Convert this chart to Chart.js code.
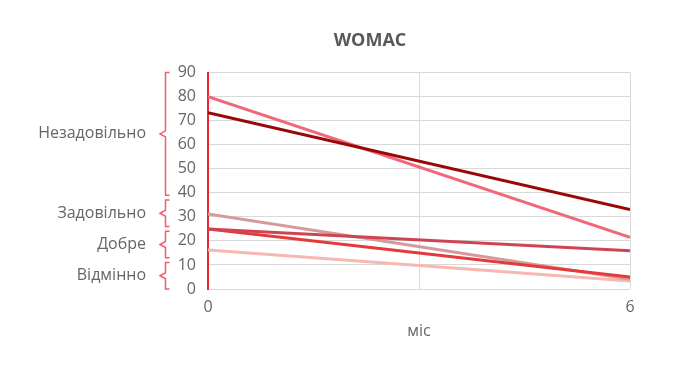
<!DOCTYPE html>
<html>
<head>
<meta charset="utf-8">
<script src="https://cdn.jsdelivr.net/npm/chart.js@4/dist/chart.umd.min.js"></script>
<style>
	html, body { margin: 0; padding: 0; background: #fff; }
	#wrap { width: 700px; height: 372px; }
</style>
</head>
<body>
<div id="wrap"><canvas id="chart"></canvas></div>
<script>
// months at which WOMAC was measured
const months = [0, 6]

// WOMAC score of each series at 0 and 6 months
const seriesDarkRed = [73.3, 33]
const seriesPink = [80, 21.5]
const seriesMidRed = [25, 15.9]
const seriesRed = [25, 5]
const seriesDusty = [31.2, 4]
const seriesLight = [16.2, 3.3]

// rating bands shown with braces left of the axis
const bandLabels = ['Незадовільно', 'Задовільно', 'Добре', 'Відмінно']
const bandFrom = [39, 26, 13, 0]
const bandTo = [90, 37, 24, 11]

const toPoints = (values) => values.map((v, i) => ({ x: months[i], y: v }))

const seriesColors = ['#990808', '#f0687a', '#cf4452', '#e43a3a', '#d59a9c', '#f6b8b0']
const allSeries = [seriesDarkRed, seriesPink, seriesMidRed, seriesRed, seriesDusty, seriesLight]

// draws curly braces with the band names
const bracePlugin = {
	id: 'braces',
	afterDraw(chart) {
		const ctx = chart.ctx
		const y = chart.scales.y
		ctx.save()
		ctx.strokeStyle = '#f0606c'
		ctx.lineWidth = 1.5
		ctx.fillStyle = '#666'
		ctx.font = '16px "Open Sans"'
		ctx.textAlign = 'right'
		ctx.textBaseline = 'middle'
		bandLabels.forEach((label, i) => {
			const top = y.getPixelForValue(bandTo[i])
			const bottom = y.getPixelForValue(bandFrom[i])
			const mid = (top + bottom) / 2
			const xr = 169.5
			const xv = 165.5
			const xp = 160
			ctx.beginPath()
			ctx.moveTo(xr, top)
			ctx.lineTo(xv, top)
			ctx.lineTo(xv, mid - 3)
			ctx.lineTo(xp, mid)
			ctx.lineTo(xv, mid + 3)
			ctx.lineTo(xv, bottom)
			ctx.lineTo(xr, bottom)
			ctx.stroke()
			ctx.fillText(label, 146, mid)
		})
		ctx.restore()
	},
}

new Chart(document.getElementById('chart'), {
	type: 'line',
	data: {
		datasets: allSeries.map((s, i) => ({
			data: toPoints(s),
			borderColor: seriesColors[i],
			borderWidth: 3,
			pointRadius: 0,
			tension: 0,
		})),
	},
	options: {
		responsive: true,
		maintainAspectRatio: false,
		animation: false,
		layout: {
			padding: { left: 110, right: 70, top: 30, bottom: 31 },
		},
		plugins: {
			legend: { display: false },
			tooltip: { enabled: false },
			title: {
				display: true,
				text: 'WOMAC',
				color: '#595959',
				font: { family: 'Open Sans', size: 18, weight: 'bold' },
				padding: { top: 0, bottom: 21 },
			},
		},
		scales: {
			x: {
				type: 'linear',
				min: 0,
				max: 6,
				afterFit: (s) => { s.height = 52 },
				ticks: {
					stepSize: 3,
					padding: 9,
					color: '#666',
					font: { family: 'Open Sans', size: 16 },
					callback: (v) => (v === 3 ? '' : v),
				},
				grid: {
					drawTicks: false,
					color: (c) => (c.tick && c.tick.value === 0 ? 'rgba(0,0,0,0)' : '#d9d9d9'),
				},
				border: { display: false },
				title: {
					display: true,
					text: 'міс',
					color: '#666',
					font: { family: 'Open Sans', size: 16 },
					padding: 0,
				},
			},
			y: {
				min: 0,
				max: 90,
				afterFit: (s) => { s.width = 98 },
				ticks: {
					stepSize: 10,
					padding: 12,
					color: '#666',
					font: { family: 'Open Sans', size: 16 },
				},
				grid: { drawTicks: false, color: '#d9d9d9' },
				border: { color: '#ee2433', width: 2 },
			},
		},
	},
	plugins: [bracePlugin],
})
</script>
</body>
</html>
